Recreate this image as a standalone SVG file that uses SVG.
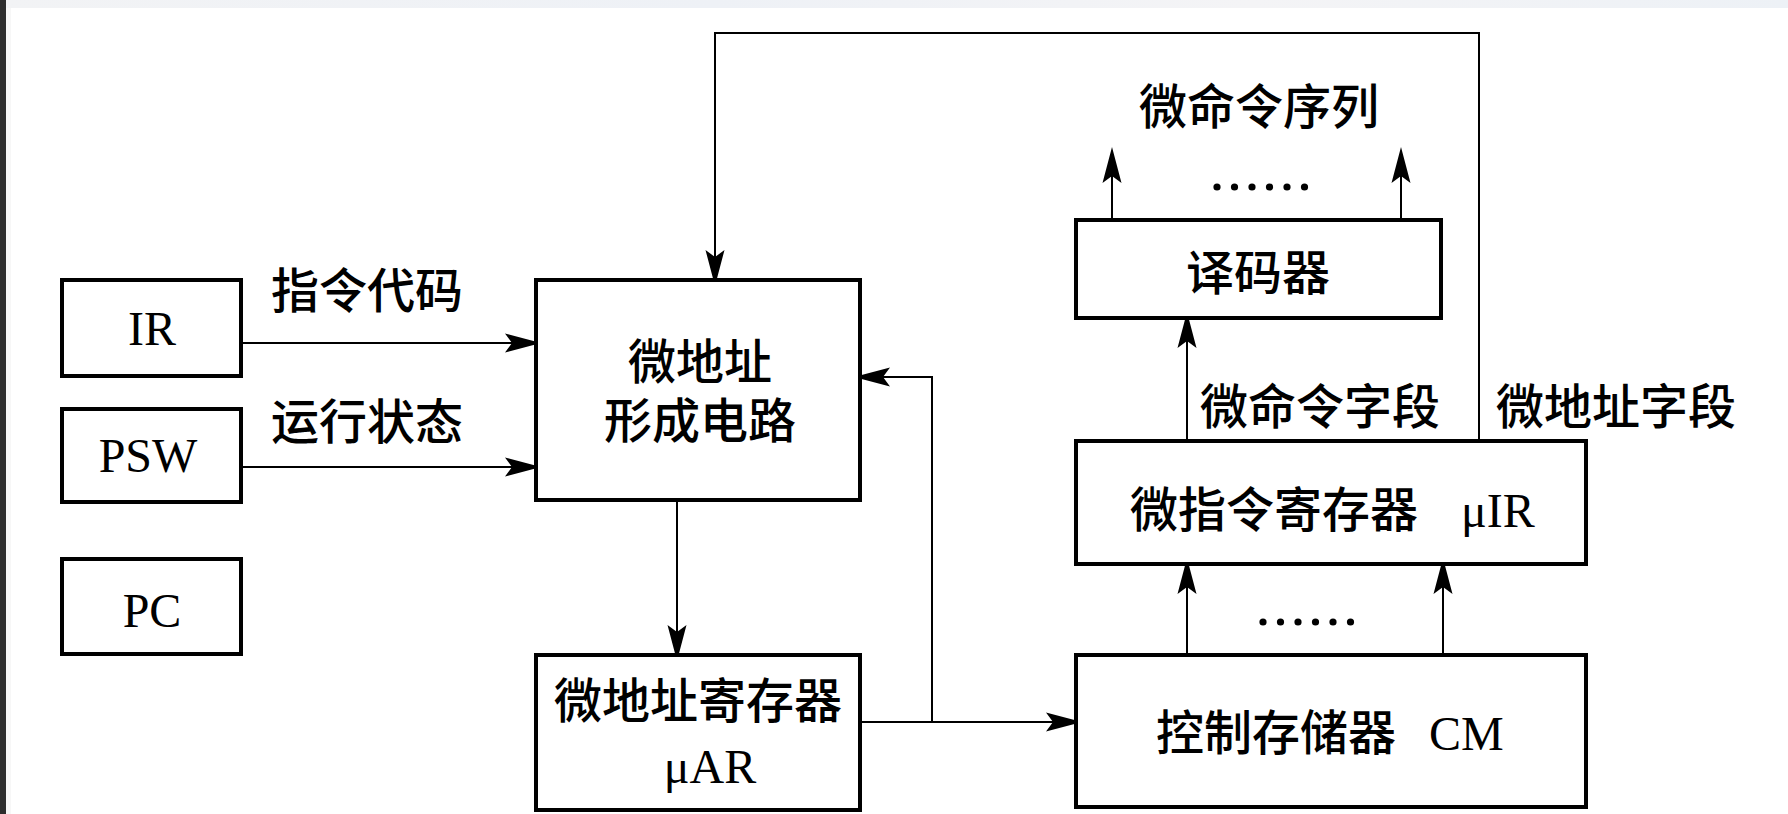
<svg xmlns="http://www.w3.org/2000/svg" width="1788" height="814" viewBox="0 0 1788 814">
  <defs>
    <linearGradient id="topBand" x1="0" y1="0" x2="1" y2="0">
      <stop offset="0" stop-color="#f2f3f5"/>
      <stop offset="0.4" stop-color="#eef1f6"/>
      <stop offset="0.7" stop-color="#f4f4f6"/>
      <stop offset="1" stop-color="#edf1f6"/>
    </linearGradient>
    <marker id="arrow" markerUnits="userSpaceOnUse" viewBox="0 0 36 20" markerWidth="36" markerHeight="20" refX="32" refY="10" orient="auto">
      <path d="M0,0.5 L36,10 L0,19.5 L7,10 Z" fill="#000"/>
    </marker>
  </defs>
  <style>
    .box { fill: #fff; stroke: #000; stroke-width: 4; }
    .wire { fill: none; stroke: #000; stroke-width: 2; }
    .arr { marker-end: url(#arrow); }
    .cjk { font-family: "Noto Sans CJK SC", "Noto Sans", sans-serif; font-size: 48px; font-weight: 500; fill: #000; }
    .lat { font-family: "Liberation Serif", "Times New Roman", serif; font-size: 48px; fill: #000; }
    .mid { text-anchor: middle; }
  </style>

  <!-- page background and edges -->
  <rect x="0" y="0" width="1788" height="814" fill="#fff"/>
  <rect x="0" y="0" width="1788" height="8" fill="url(#topBand)"/>
  <rect x="0" y="0" width="6" height="814" fill="#2d2d2d"/>
  <rect x="6" y="8" width="5" height="806" fill="#f7f7f7"/>

  <!-- connectors -->
  <g id="connectors">
    <!-- IR -> address forming circuit -->
    <path class="wire arr" d="M243,343 H537"/>
    <!-- PSW -> address forming circuit -->
    <path class="wire arr" d="M243,467 H537"/>
    <!-- forming circuit -> uAR -->
    <path class="wire arr" d="M677,502 V657"/>
    <!-- uAR -> CM -->
    <path class="wire arr" d="M862,722 H1078"/>
    <!-- branch back to forming circuit -->
    <path class="wire arr" d="M932,722 V377 H858"/>
    <!-- CM -> uIR -->
    <path class="wire arr" d="M1187,653 V562"/>
    <path class="wire arr" d="M1443,653 V562"/>
    <!-- micro-command field -> decoder -->
    <path class="wire arr" d="M1187,439 V316"/>
    <!-- decoder outputs -->
    <path class="wire arr" d="M1112,218 V151"/>
    <path class="wire arr" d="M1401,218 V151"/>
    <!-- micro-address field feedback -->
    <path class="wire arr" d="M1479,439 V33 H715 V282"/>
    <!-- ellipsis dots -->
    <g fill="#000">
      <circle cx="1217" cy="187" r="3.6"/>
      <circle cx="1234.5" cy="187" r="3.6"/>
      <circle cx="1252" cy="187" r="3.6"/>
      <circle cx="1269.5" cy="187" r="3.6"/>
      <circle cx="1287" cy="187" r="3.6"/>
      <circle cx="1304.5" cy="187" r="3.6"/>
      <circle cx="1263" cy="622" r="3.6"/>
      <circle cx="1280.5" cy="622" r="3.6"/>
      <circle cx="1298" cy="622" r="3.6"/>
      <circle cx="1315.5" cy="622" r="3.6"/>
      <circle cx="1333" cy="622" r="3.6"/>
      <circle cx="1350.5" cy="622" r="3.6"/>
    </g>
  </g>

  <!-- connector labels -->
  <g id="labels">
    <text class="cjk" x="271" y="308">指令代码</text>
    <text class="cjk" x="271" y="439">运行状态</text>
    <text class="cjk mid" x="1259" y="124">微命令序列</text>
    <text class="cjk" x="1200" y="424">微命令字段</text>
    <text class="cjk" x="1496" y="424">微地址字段</text>
  </g>

  <g id="ir">
    <rect class="box" x="62" y="280" width="179" height="96"/>
    <text class="lat mid" x="152" y="345">IR</text>
  </g>

  <g id="psw">
    <rect class="box" x="62" y="409" width="179" height="93"/>
    <text class="lat mid" x="148" y="472">PSW</text>
  </g>

  <g id="pc">
    <rect class="box" x="62" y="559" width="179" height="95"/>
    <text class="lat mid" x="152" y="627">PC</text>
  </g>

  <g id="address-former">
    <rect class="box" x="536" y="280" width="324" height="220"/>
    <text class="cjk mid"><tspan x="700" y="379">微地址</tspan><tspan x="700" y="438">形成电路</tspan></text>
  </g>

  <g id="uar">
    <rect class="box" x="536" y="655" width="324" height="155"/>
    <text class="cjk mid" x="698" y="718">微地址寄存器</text>
    <text class="lat mid" x="710" y="783">μAR</text>
  </g>

  <g id="decoder">
    <rect class="box" x="1076" y="220" width="365" height="98"/>
    <text class="cjk mid" x="1258" y="290">译码器</text>
  </g>

  <g id="uir">
    <rect class="box" x="1076" y="441" width="510" height="123"/>
    <text class="cjk" x="1130" y="527">微指令寄存器</text>
    <text class="lat" x="1461" y="527">μIR</text>
  </g>

  <g id="cm">
    <rect class="box" x="1076" y="655" width="510" height="152"/>
    <text class="cjk" x="1156" y="750">控制存储器</text>
    <text class="lat" x="1429" y="750">CM</text>
  </g>
</svg>
